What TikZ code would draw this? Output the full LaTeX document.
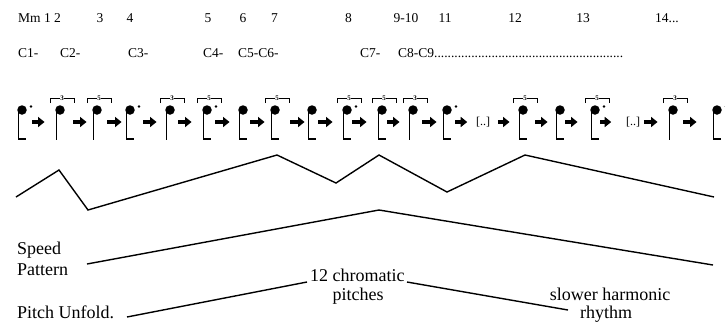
\documentclass[tikz,border=0pt]{standalone}
\usepackage{fontspec}
\setmainfont{Liberation Serif}
\usetikzlibrary{arrows.meta}
\begin{document}
\begin{tikzpicture}[x=1pt,y=-1pt,
  head/.style={circle,fill=black,inner sep=0pt,minimum size=9.5pt},
  stem/.style={line width=1.4pt},
  arr/.style={line width=3.3pt,-{Triangle[length=6.5pt,width=10pt]}},
  tupl/.style={line width=0.9pt},
  tnum/.style={font=\fontsize{7}{8}\selectfont\bfseries,fill=white,inner sep=0.5pt},
  lab/.style={font=\fontsize{13.5}{15}\selectfont,inner sep=0pt},
  big/.style={font=\fontsize{18}{20}\selectfont,inner sep=0pt},
  gl/.style={line width=1.4pt,line join=miter},
  dd/.style={font=\fontsize{12}{13}\selectfont,inner sep=0pt}
]
\useasboundingbox (0,0) rectangle (725,325);

% measure numbers
\node[lab,anchor=base west] (mm) at (18,22) {Mm 1 2};
\foreach \nm/\x/\t in {m3/100/3, m4/130/4, m5/208/5, m6/243/6, m7/274.5/7, m8/348.5/8,
  m9/406/9-10, m11/445/11, m12/515/12, m13/583/13}{
  \node[lab,anchor=base] (\nm) at (\x,22) {\t};
}
\node[lab,anchor=base] (m14) at (667,22) {14...};
% chord labels
\foreach \nm/\x/\t in {c1/18/C1-, c2/60/C2-, c3/128/C3-, c4/203/C4-, c5/238/C5-C6-, c7/360/C7-}{
  \node[lab,anchor=base west] (\nm) at (\x,57) {\t};
}
\node[lab,anchor=base west] (c8) at (398,57) {C8-C9........................................................};

% notes
\foreach \i/\x/\ft/\dt/\tp in {1/22/1/1/0, 2/60/0/0/3, 3/97/0/0/5, 4/130/1/1/0, 5/170/0/0/3,
  6/207/1/1/5, 7/243/1/0/0, 8/275/1/0/5, 9/312/1/0/0, 10/347/1/1/5, 11/382/1/0/5,
  12/413/0/0/3, 13/447/1/1/0, 14/523/1/0/5, 15/560/1/0/0, 16/595/1/1/5, 17/673/0/0/3,
  18/717/1/1/0}{
  \ifnum\ft=1
    \draw[stem] (\x-3.7,110) -- (\x-3.7,139) -- (\x+3.5,139);
  \else
    \draw[stem] (\x-3.7,110) -- (\x-3.7,140);
  \fi
  \node[head] (n\i) at (\x,110) {};
  \ifnum\dt=1 \fill (\x+9,106.5) circle (1.3); \fi
  \ifnum\tp>0
    \draw[tupl] (\x-10,103) -- (\x-10,98) -- (\x+14,98) -- (\x+14,103);
    \node[tnum] (t\i) at (\x+2,98) {\tp};
  \fi
}
\node[dd] (d1) at (483,122) {[..]};
\node[dd] (d2) at (633,122) {[..]};
\coordinate (row) at (0,122);

% arrows between notes
\foreach \a/\b/\s/\e in {n1/n2/5.5/10.5, n2/n3/8.5/5.5, n3/n4/5.5/3.5, n4/n5/8.5/8.5,
  n5/n6/3.5/10.5, n6/n7/3.5/8.5, n7/n8/2.5/5.5, n8/n9/10.5/2.5, n9/n10/1.5/9.5,
  n10/n11/0.5/10.5, n11/n12/0.5/8.5, n12/n13/4.5/5.5, n13/d1/3.5/8.6, d1/n14/7.6/8.5,
  n14/n15/7.5/7.5, n15/n16/0.5/12.5, n16/d2/0.5/14.6, d2/n17/3.6/10.5, n17/n18/5.5/15.5}{
  \draw[arr,shorten <=\s pt,shorten >=\e pt] (\a.east |- row) -- (\b.west |- row);
}

% harmonic zigzag
\coordinate (z0) at (16,197);
\coordinate (z1) at (59,170);
\coordinate (z2) at (88,210);
\coordinate (z3) at (277,155);
\coordinate (z4) at (336,183);
\coordinate (z5) at (379,155);
\coordinate (z6) at (447,192);
\coordinate (z7) at (525,155);
\coordinate (z8) at (714,197);
\draw[gl] (z0) -- (z1) -- (z2) -- (z3) -- (z4) -- (z5) -- (z6) -- (z7) -- (z8);

% labels
\node[big,anchor=base west] (speed) at (17,254) {Speed};
\node[big,anchor=base west] (pattern) at (17,275) {Pattern};
\node[big,anchor=base west] (pitch) at (17,318) {Pitch Unfold.};
\node[big,anchor=base west] (chrom) at (310,281) {12 chromatic};
\node[big,anchor=base] (pitches) at (358,300) {pitches};
\node[big,anchor=base] (slower) at (610,300) {slower harmonic};
\node[big,anchor=base] (rhythm) at (606,318) {rhythm};

% speed pattern
\coordinate (s0) at (87,264);
\coordinate (s1) at (379,210);
\coordinate (s2) at (713,265);
\draw[gl] (s0) -- (s1) -- (s2);

% pitch unfolding
\coordinate (p0) at (127,317);
\coordinate (p1) at (307,282);
\coordinate (p2) at (407,282);
\coordinate (p3) at (568,310);
\draw[gl] (p0) -- (p1);
\draw[gl] (p2) -- (p3);
\end{tikzpicture}
\end{document}
